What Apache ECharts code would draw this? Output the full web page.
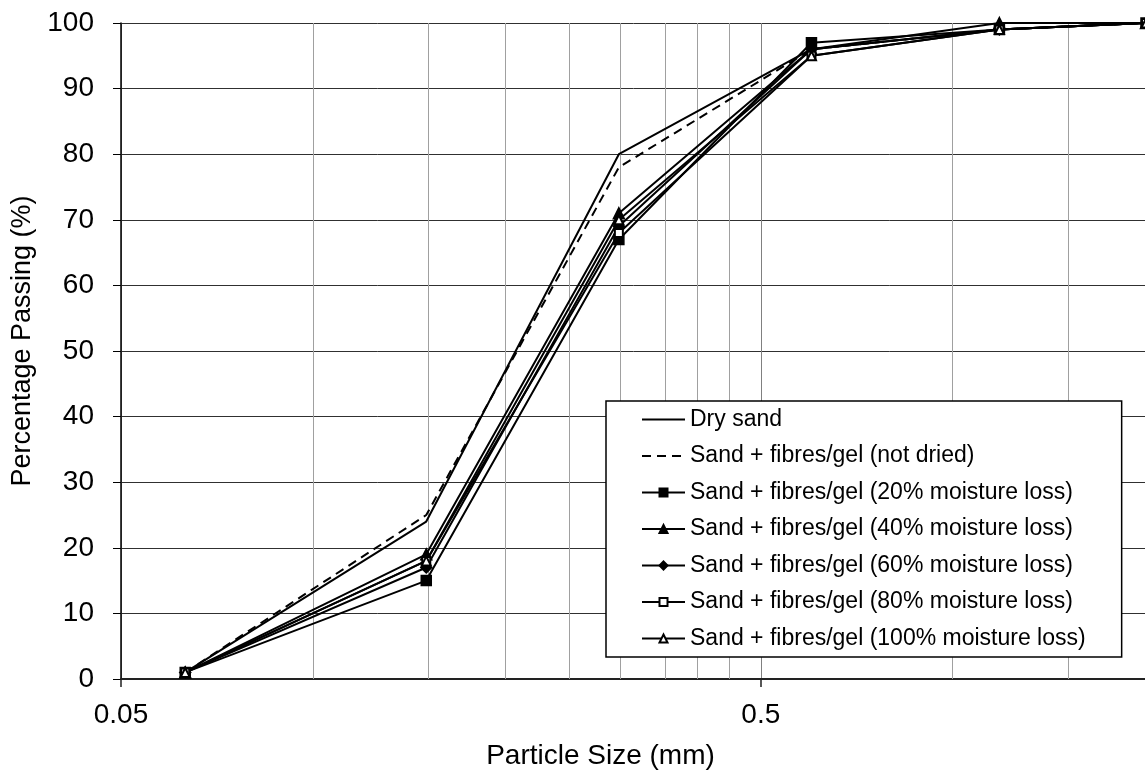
<!DOCTYPE html>
<html>
<head>
<meta charset="utf-8">
<script src="https://cdn.jsdelivr.net/npm/echarts@6/dist/echarts.min.js"></script>
<style>
html, body { margin: 0; padding: 0; background: #fff; }
#chart { width: 1145px; height: 782px; }
</style>
</head>
<body>
<div id="chart"></div>
<script>
// sieve sizes (mm) and percentage passing for each sample
var sizes = [0.063, 0.15, 0.3, 0.6, 1.18, 2.0];
var drySand = [1, 24, 80, 96, 99, 100];
var notDried = [1, 25, 78, 96, 99, 100];
var loss20 = [1, 15, 67, 97, 99, 100];
var loss40 = [1, 19, 71, 96, 100, 100];
var loss60 = [1, 17, 69, 96, 99, 100];
var loss80 = [1, 18, 68, 95, 99, 100];
var loss100 = [1, 18, 70, 95, 99, 100];

var seriesNames = [
	'Dry sand',
	'Sand + fibres/gel (not dried)',
	'Sand + fibres/gel (20% moisture loss)',
	'Sand + fibres/gel (40% moisture loss)',
	'Sand + fibres/gel (60% moisture loss)',
	'Sand + fibres/gel (80% moisture loss)',
	'Sand + fibres/gel (100% moisture loss)'
];

// log axis: base value 0.05, one decade per unit
var xBase = 0.05;
var xMax = 2.0;
var xTickLabels = ['0.05', '0.5'];
var minorGrid = [0.1, 0.15, 0.2, 0.25, 0.3, 0.35, 0.4, 0.45, 1.0, 1.5];

var font = '"Liberation Sans", Arial, sans-serif';

function lx(v) {
	return Math.log10(v / xBase);
}

function pts(values) {
	var out = [];
	for (var i = 0; i < sizes.length; i++) {
		out.push([lx(sizes[i]), values[i]]);
	}
	return out;
}

function makeSeries(name, values, symbol, size, dashed) {
	return {
		name: name,
		type: 'line',
		data: pts(values),
		symbol: symbol || 'none',
		symbolSize: size || 0,
		showSymbol: !!symbol,
		lineStyle: { color: '#000', width: 2, type: dashed ? [9, 6] : 'solid' },
		itemStyle: { color: '#000', borderColor: '#000', borderWidth: 1.5 },
		emphasis: { disabled: true },
		z: 3
	};
}

var series = [
	makeSeries(seriesNames[0], drySand),
	makeSeries(seriesNames[1], notDried, null, 0, true),
	makeSeries(seriesNames[2], loss20, 'rect', 10),
	makeSeries(seriesNames[3], loss40, 'triangle', 11),
	makeSeries(seriesNames[4], loss60, 'diamond', 11),
	makeSeries(seriesNames[5], loss80, 'emptyRect', 8),
	makeSeries(seriesNames[6], loss100, 'emptyTriangle', 9)
];

// minor log gridlines hung on the first series
series[0].markLine = {
	silent: true,
	symbol: 'none',
	z: 1,
	animation: false,
	label: { show: false },
	lineStyle: { color: '#a0a0a0', width: 1, type: 'solid' },
	data: minorGrid.map(function (g) { return { xAxis: lx(g) }; })
};

var legendData = seriesNames.map(function (n, i) {
	var d = { name: n };
	if (i < 2) d.itemStyle = { opacity: 0 };
	return d;
});

var chart = echarts.init(document.getElementById('chart'));
chart.setOption({
	animation: false,
	backgroundColor: '#fff',
	grid: { left: 121, top: 23, right: -1, bottom: 103, containLabel: false, outerBoundsMode: 'none' },
	xAxis: {
		type: 'value',
		min: 0,
		max: lx(xMax),
		interval: 1,
		name: 'Particle Size (mm)',
		nameLocation: 'middle',
		nameGap: 63,
		nameTextStyle: { fontFamily: font, fontSize: 28, color: '#000', padding: [0, 66, 0, 0] },
		axisLine: { show: true, onZero: false, lineStyle: { color: '#222', width: 2 } },
		axisTick: { show: true, inside: false, length: 8, lineStyle: { color: '#222', width: 1.5 } },
		axisLabel: {
			fontFamily: font, fontSize: 28, color: '#000', margin: 22,
			formatter: function (v) {
				var k = Math.round(v);
				return Math.abs(v - k) < 1e-6 && xTickLabels[k] ? xTickLabels[k] : '';
			}
		},
		splitLine: { show: true, lineStyle: { color: '#808080', width: 1 } }
	},
	yAxis: {
		type: 'value',
		min: 0,
		max: 100,
		interval: 10,
		name: 'Percentage Passing (%)',
		nameLocation: 'middle',
		nameGap: 80,
		nameRotate: 90,
		nameTextStyle: { fontFamily: font, fontSize: 27, color: '#000', padding: [0, 0, 0, 20] },
		axisLine: { show: true, lineStyle: { color: '#000', width: 1.5 } },
		axisTick: { show: true, inside: false, length: 8, lineStyle: { color: '#000', width: 1 } },
		axisLabel: { fontFamily: font, fontSize: 28, color: '#000', margin: 27 },
		splitLine: { show: true, lineStyle: { color: '#303030', width: 1 } }
	},
	legend: {
		orient: 'vertical',
		left: 606,
		top: 401,
		padding: [7, 36, 7, 35],
		itemWidth: 43,
		itemHeight: 10,
		itemGap: 13.5,
		backgroundColor: '#fff',
		borderColor: '#000',
		borderWidth: 1.5,
		selectedMode: false,
		textStyle: { fontFamily: font, fontSize: 23, color: '#000', lineHeight: 22 },
		data: legendData
	},
	series: series
});
</script>
</body>
</html>
